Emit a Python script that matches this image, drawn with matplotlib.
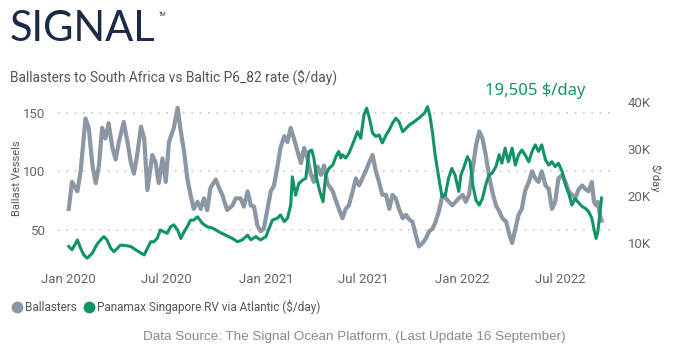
import matplotlib
matplotlib.use("Agg")
import matplotlib.pyplot as plt
import matplotlib.dates as mdates
from matplotlib.lines import Line2D
from matplotlib.ticker import FixedLocator, FuncFormatter
import pandas as pd

# ballasters to South Africa (left axis, vessels)
ballast_dates = [
    "2020-01-01", "2020-01-07", "2020-01-17", "2020-01-23", "2020-02-01", "2020-02-07",
    "2020-02-14", "2020-02-20", "2020-02-26", "2020-03-03", "2020-03-09", "2020-03-15",
    "2020-03-22", "2020-03-28", "2020-04-03", "2020-04-12", "2020-04-19", "2020-04-25",
    "2020-05-01", "2020-05-07", "2020-05-14", "2020-05-20", "2020-05-26", "2020-06-04",
    "2020-06-10", "2020-06-16", "2020-06-23", "2020-06-29", "2020-07-05", "2020-07-14",
    "2020-07-21", "2020-07-27", "2020-08-02", "2020-08-08", "2020-08-14", "2020-08-20",
    "2020-08-27", "2020-09-02", "2020-09-08", "2020-09-14", "2020-09-20", "2020-09-30",
    "2020-10-06", "2020-10-12", "2020-10-21", "2020-10-31", "2020-11-06", "2020-11-15",
    "2020-11-21", "2020-11-28", "2020-12-04", "2020-12-10", "2020-12-16", "2020-12-22",
    "2020-12-28", "2021-01-04", "2021-01-10", "2021-01-16", "2021-01-22", "2021-01-28",
    "2021-02-04", "2021-02-10", "2021-02-16", "2021-02-22", "2021-02-28", "2021-03-07",
    "2021-03-13", "2021-03-19", "2021-03-25", "2021-03-31", "2021-04-07", "2021-04-13",
    "2021-04-19", "2021-04-25", "2021-05-05", "2021-05-14", "2021-05-23", "2021-05-29",
    "2021-06-04", "2021-06-11", "2021-06-17", "2021-06-23", "2021-06-29", "2021-07-05",
    "2021-07-12", "2021-07-18", "2021-07-24", "2021-07-30", "2021-08-05", "2021-08-12",
    "2021-08-18", "2021-08-24", "2021-08-30", "2021-09-05", "2021-09-12", "2021-09-18",
    "2021-09-24", "2021-09-30", "2021-10-06", "2021-10-12", "2021-10-19", "2021-10-25",
    "2021-10-31", "2021-11-06", "2021-11-12", "2021-11-18", "2021-11-25", "2021-12-01",
    "2021-12-07", "2021-12-13", "2021-12-19", "2021-12-25", "2022-01-01", "2022-01-07",
    "2022-01-13", "2022-01-20", "2022-01-26", "2022-02-01", "2022-02-07", "2022-02-13",
    "2022-02-19", "2022-02-25", "2022-03-04", "2022-03-10", "2022-03-16", "2022-03-23",
    "2022-03-29", "2022-04-03", "2022-04-09", "2022-04-15", "2022-04-21", "2022-04-27",
    "2022-05-04", "2022-05-10", "2022-05-16", "2022-05-22", "2022-05-28", "2022-06-04",
    "2022-06-10", "2022-06-16", "2022-06-22", "2022-06-28", "2022-07-05", "2022-07-11",
    "2022-07-17", "2022-07-23", "2022-07-29", "2022-08-05", "2022-08-11", "2022-08-17",
    "2022-08-23", "2022-08-29", "2022-09-02", "2022-09-06", "2022-09-09", "2022-09-13",
    "2022-09-16",
]
ballasters = [
    68, 91, 83, 100, 145, 137, 105, 90, 105, 137, 128, 141,
    120, 110, 125, 142, 125, 108, 98, 114, 138, 128, 84, 114,
    108, 90, 111, 91, 125, 137, 154, 134, 117, 94, 80, 68,
    74, 68, 77, 67, 86, 93, 86, 80, 67, 71, 77, 77,
    70, 83, 71, 70, 54, 49, 51, 68, 83, 88, 103, 120,
    130, 125, 137, 128, 118, 107, 120, 111, 98, 91, 104, 97,
    105, 90, 83, 71, 60, 68, 71, 83, 94, 88, 94, 100,
    108, 114, 100, 91, 80, 80, 68, 80, 77, 68, 60, 63,
    59, 57, 46, 36, 39, 43, 49, 51, 57, 66, 80, 77,
    74, 71, 74, 77, 80, 74, 80, 103, 122, 134, 128, 114,
    97, 83, 71, 66, 60, 57, 46, 39, 51, 63, 68, 83,
    91, 100, 94, 91, 100, 88, 85, 68, 74, 94, 97, 91,
    83, 80, 77, 85, 88, 85, 83, 91, 74, 71, 74, 63,
    58,
]

# Panamax Singapore RV via Atlantic (right axis, $K/day)
rate_dates = [
    "2020-01-01", "2020-01-07", "2020-01-14", "2020-01-17", "2020-01-23", "2020-01-29",
    "2020-02-04", "2020-02-14", "2020-02-20", "2020-02-26", "2020-03-06", "2020-03-12",
    "2020-03-19", "2020-03-25", "2020-03-31", "2020-04-06", "2020-04-15", "2020-04-25",
    "2020-05-04", "2020-05-14", "2020-05-20", "2020-05-26", "2020-06-01", "2020-06-07",
    "2020-06-13", "2020-06-19", "2020-06-26", "2020-07-02", "2020-07-08", "2020-07-14",
    "2020-07-21", "2020-07-27", "2020-08-02", "2020-08-08", "2020-08-14", "2020-08-20",
    "2020-08-27", "2020-09-05", "2020-09-14", "2020-09-24", "2020-10-06", "2020-10-18",
    "2020-10-31", "2020-11-09", "2020-11-18", "2020-11-28", "2020-12-04", "2020-12-13",
    "2020-12-22", "2021-01-01", "2021-01-07", "2021-01-13", "2021-01-22", "2021-01-28",
    "2021-02-04", "2021-02-10", "2021-02-16", "2021-02-19", "2021-02-25", "2021-03-03",
    "2021-03-10", "2021-03-16", "2021-03-22", "2021-03-27", "2021-03-31", "2021-04-05",
    "2021-04-11", "2021-04-17", "2021-04-22", "2021-04-28", "2021-05-05", "2021-05-11",
    "2021-05-16", "2021-05-20", "2021-05-23", "2021-05-29", "2021-06-04", "2021-06-14",
    "2021-06-20", "2021-06-26", "2021-07-02", "2021-07-07", "2021-07-12", "2021-07-18",
    "2021-07-24", "2021-07-30", "2021-08-05", "2021-08-12", "2021-08-18", "2021-08-24",
    "2021-08-30", "2021-09-05", "2021-09-12", "2021-09-18", "2021-09-24", "2021-10-03",
    "2021-10-12", "2021-10-22", "2021-10-28", "2021-11-01", "2021-11-06", "2021-11-11",
    "2021-11-16", "2021-11-20", "2021-11-24", "2021-11-30", "2021-12-06", "2021-12-12",
    "2021-12-18", "2021-12-25", "2021-12-29", "2022-01-04", "2022-01-10", "2022-01-15",
    "2022-01-20", "2022-01-26", "2022-02-01", "2022-02-07", "2022-02-13", "2022-02-19",
    "2022-02-25", "2022-03-04", "2022-03-10", "2022-03-15", "2022-03-21", "2022-03-27",
    "2022-04-03", "2022-04-09", "2022-04-15", "2022-04-21", "2022-04-27", "2022-05-04",
    "2022-05-10", "2022-05-16", "2022-05-22", "2022-05-28", "2022-06-04", "2022-06-10",
    "2022-06-16", "2022-06-22", "2022-06-28", "2022-07-05", "2022-07-11", "2022-07-17",
    "2022-07-23", "2022-07-29", "2022-08-05", "2022-08-11", "2022-08-17", "2022-08-23",
    "2022-08-29", "2022-09-03", "2022-09-06", "2022-09-09", "2022-09-12", "2022-09-16",
]
rate_k = [
    9.2, 8.5, 9.9, 10.6, 8.8, 7.4, 6.7, 7.8, 9.2, 10.2, 11.3, 10.6,
    8.8, 8.1, 8.8, 9.5, 9.4, 9.2, 8.5, 7.8, 7.4, 8.8, 10.2, 10.2,
    10.9, 12.7, 12.3, 12.0, 13.4, 13.8, 12.7, 10.9, 12.3, 13.4, 14.8, 14.8,
    15.5, 14.1, 13.4, 13.1, 12.3, 11.6, 10.9, 10.2, 10.6, 11.6, 10.6, 11.3,
    10.6, 11.3, 13.1, 14.8, 15.2, 15.9, 14.5, 15.2, 18.0, 24.0, 20.1, 22.6,
    23.3, 23.7, 29.4, 29.7, 28.0, 23.7, 20.9, 18.7, 24.4, 25.8, 26.5, 28.3,
    29.4, 28.0, 28.7, 28.0, 29.0, 31.8, 33.6, 32.2, 37.2, 38.6, 36.5, 33.3,
    32.6, 32.9, 31.2, 32.9, 34.0, 35.4, 36.5, 35.7, 33.6, 34.3, 35.0, 35.7,
    36.5, 37.5, 38.9, 37.2, 33.6, 28.7, 25.1, 22.3, 19.8, 20.1, 23.7, 25.8,
    24.4, 20.9, 24.4, 26.2, 28.3, 27.2, 22.3, 19.0, 18.0, 19.4, 22.3, 24.4,
    24.8, 26.2, 28.7, 26.9, 30.1, 27.2, 30.1, 26.5, 28.7, 29.7, 28.7, 27.2,
    29.4, 30.8, 29.4, 30.8, 27.6, 26.5, 27.2, 26.2, 26.9, 25.1, 22.3, 20.5,
    18.0, 19.4, 18.4, 17.7, 17.3, 16.6, 15.2, 12.3, 10.9, 12.3, 15.2, 19.5,
]

left_ticks = [50, 100, 150]
right_ticks = [10, 20, 30, 40]
x_ticks = ["2020-01-01", "2020-07-01", "2021-01-01", "2021-07-01", "2022-01-01", "2022-07-01"]
latest_label = "19,505 $/day"

GREY = "#8c97a6"
GREEN = "#11936a"
TXT = "#666666"

plt.rcParams["font.family"] = ["Roboto", "DejaVu Sans"]

fig = plt.figure(figsize=(6.8, 3.63), dpi=100)
ax = fig.add_axes([58 / 680, (363 - 262) / 363, (615 - 58) / 680, (262 - 95) / 363])
ax2 = ax.twinx()

bd = pd.to_datetime(ballast_dates)
rd = pd.to_datetime(rate_dates)

ax.plot(bd, ballasters, color=GREY, lw=3.0, solid_joinstyle="round")
ax2.plot(rd, rate_k, color=GREEN, lw=2.2, solid_joinstyle="round")

ax.set_xlim(pd.Timestamp("2019-12-12"), pd.Timestamp("2022-10-11"))
ax.set_ylim(22.8, 165)
ax2.set_ylim(5.9, 41.4)

ax.yaxis.set_major_locator(FixedLocator(left_ticks))
ax2.yaxis.set_major_locator(FixedLocator(right_ticks))
ax2.yaxis.set_major_formatter(FuncFormatter(lambda v, p: f"{int(v)}K"))
ax.set_xticks(pd.to_datetime(x_ticks))
ax.xaxis.set_major_formatter(mdates.DateFormatter("%b %Y"))

ax.grid(axis="y", color="#c8c8c8", linestyle=(0, (1, 4)), lw=1.2)
for a in (ax, ax2):
    for s in a.spines.values():
        s.set_visible(False)
    a.tick_params(length=0, colors=TXT, labelsize=9.5)
ax.tick_params(axis="x", pad=8)
ax.tick_params(axis="y", pad=9)
ax2.tick_params(axis="y", pad=9)

ax.set_ylabel("Ballast Vessels", fontsize=8, color="#555555", labelpad=1)
ax2.set_ylabel("$/day", fontsize=8, color="#555555", rotation=270, labelpad=7)

# logo and titles
fig.text(10 / 680, 1 - 41 / 363, "SIGNAL", fontsize=30, color="#1b2a47",
         family=["Lato", "DejaVu Sans"])
fig.text(159 / 680, 1 - 16 / 363, "TM", fontsize=3.5, color="#1b2a47")
fig.text(10 / 680, 1 - 82 / 363, "Ballasters to South Africa vs Baltic P6_82 rate ($/day)",
         fontsize=9.9, color="#555555")
fig.text(535 / 680, 1 - 91 / 363, latest_label, fontsize=12, color=GREEN,
         family=["Noto Sans", "DejaVu Sans"], ha="center", va="center")

handles = [
    Line2D([], [], marker="o", ls="none", color=GREY, markersize=7.5),
    Line2D([], [], marker="o", ls="none", color=GREEN, markersize=7.5),
]
fig.legend(handles, ["Ballasters", "Panamax Singapore RV via Atlantic ($/day)"],
           loc="center left", bbox_to_anchor=(-2 / 680, 1 - 307 / 363), ncol=2,
           frameon=False, handletextpad=-0.1, columnspacing=0.3, fontsize=8.5,
           labelcolor="#555555", handlelength=1.5)

fig.text(354 / 680, 1 - 337 / 363, "Data Source: The Signal Ocean Platform, (Last Update 16 September)",
         fontsize=9.7, color="#8a8a8a", ha="center", va="center",
         family=["Liberation Sans", "DejaVu Sans"])

fig.savefig("out.png", dpi=100)
